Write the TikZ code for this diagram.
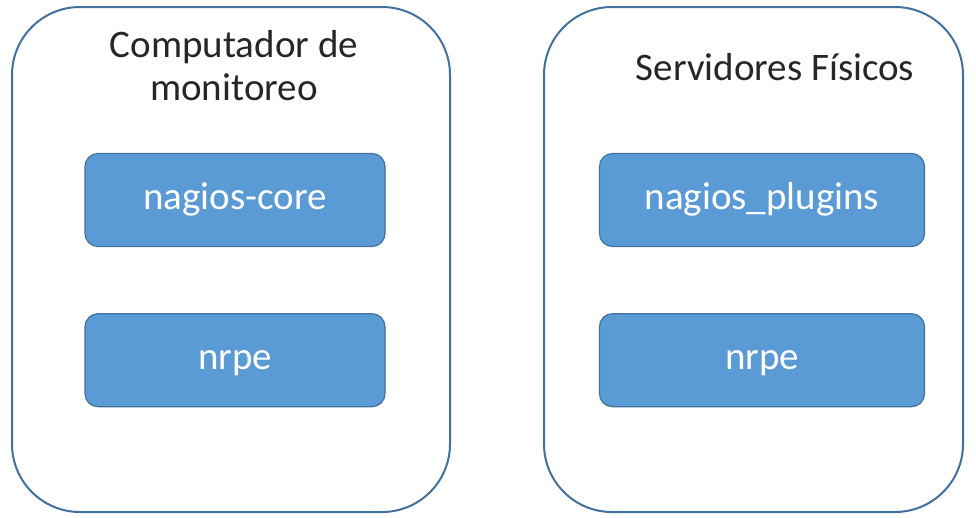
\documentclass[tikz,border=0pt]{standalone}
\usepackage{fontspec}
\setmainfont{Carlito}
\usetikzlibrary{positioning}
\definecolor{edgeblue}{HTML}{41719C}
\definecolor{fillblue}{HTML}{5B9BD5}
\tikzset{hostbox/.style={draw=edgeblue, line width=2pt, fill=white, rounded corners=68pt, minimum height=505pt},
         svcbox/.style={draw=edgeblue, line width=1.2pt, fill=fillblue, rounded corners=13pt, minimum height=93pt, text height=27pt, text depth=9pt, text=white, font=\fontsize{39}{46}\selectfont},
         hosttxt/.style={align=center, text=black!85, font=\fontsize{39}{43}\selectfont}}

\begin{document}
\begin{tikzpicture}[x=1pt, y=-1pt]
    \useasboundingbox (0, 0) rectangle (976, 517);
    % monitoring host
    \node[hostbox, minimum width=438pt] (mon) at (231, 259.5) {};
    \node[hosttxt] (montxt) at (234, 66) {Computador de\\monitoreo};
    \node[svcbox, minimum width=300pt] (core) at (235, 200) {nagios-core};
    \node[svcbox, minimum width=300pt, below=66pt of core] (monnrpe) {nrpe};
    % physical servers
    \node[hostbox, minimum width=419pt] (srv) at (753.5, 259.5) {};
    \node[hosttxt] (srvtxt) at (775, 67) {Servidores Físicos};
    \node[svcbox, minimum width=325pt] (plugins) at (762, 200) {nagios\_plugins};
    \node[svcbox, minimum width=325pt, below=66pt of plugins] (srvnrpe) {nrpe};
\end{tikzpicture}
\end{document}
